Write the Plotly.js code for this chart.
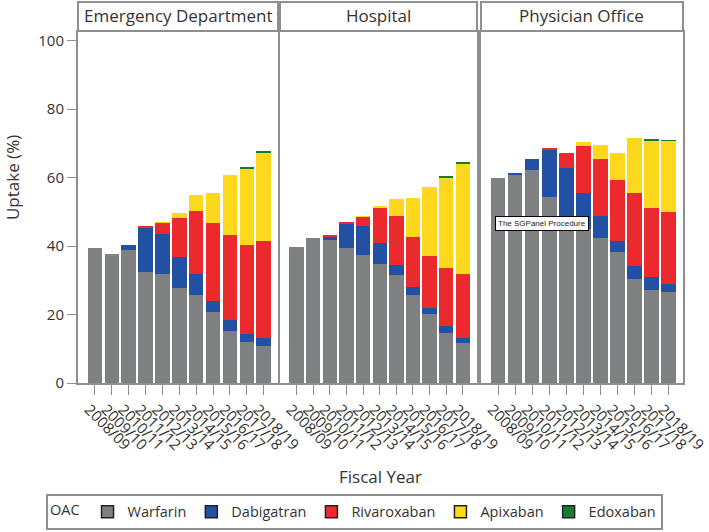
<!DOCTYPE html>
<html><head><meta charset="utf-8">
<script src="https://cdn.plot.ly/plotly-3.0.1.min.js"></script>
<style>body{margin:0;padding:0;background:#fff}#chart{width:709px;height:532px}</style>
</head><body><div id="chart"></div>
<script>
const years = ['2008/09','2009/10','2010/11','2011/12','2012/13','2013/14','2014/15','2015/16','2016/17','2017/18','2018/19'];
const panels = ['Emergency Department','Hospital','Physician Office'];
const drugs = ['Warfarin','Dabigatran','Rivaroxaban','Apixaban','Edoxaban'];
const drugColors = ['#7f8082','#2251a3','#ec2a2d','#fdd81c','#1a7a32'];

// Emergency Department
const edWarfarin    = [39.3,37.7,38.8,32.4,31.8,27.8,25.7,20.6,15.3,11.9,10.8];
const edDabigatran  = [0,0,1.6,12.9,11.8,9.0,6.2,3.3,3.1,2.4,2.3];
const edRivaroxaban = [0,0,0,0.5,3.0,11.5,18.3,22.8,24.8,25.9,28.3];
const edApixaban    = [0,0,0,0,0.5,1.2,4.8,8.7,17.5,22.2,25.7];
const edEdoxaban    = [0,0,0,0,0,0,0,0,0,0.6,0.7];
// Hospital
const hoWarfarin    = [39.6,42.2,41.7,39.3,37.5,34.8,31.5,25.7,20.2,14.5,11.8];
const hoDabigatran  = [0,0,1.0,7.1,8.3,6.0,3.1,2.3,1.8,2.1,1.3];
const hoRivaroxaban = [0,0,0.5,0.5,2.6,10.3,14.1,14.7,15.2,16.9,18.6];
const hoApixaban    = [0,0,0,0,0.5,0.7,5.0,11.4,20.0,26.4,32.2];
const hoEdoxaban    = [0,0,0,0,0,0,0,0,0,0.6,0.6];
// Physician Office
const poWarfarin    = [59.9,60.8,62.1,54.4,46.5,45.0,42.4,38.3,30.3,27.1,26.5];
const poDabigatran  = [0,0.5,3.4,13.6,16.3,10.4,6.3,3.2,4.0,3.8,2.3];
const poRivaroxaban = [0,0,0,0.6,4.5,13.8,16.6,17.7,21.1,20.1,21.1];
const poApixaban    = [0,0,0,0,0,1.2,4.1,8.1,16.2,19.7,20.7];
const poEdoxaban    = [0,0,0,0,0,0,0,0,0,0.6,0.5];

const panelData = [
  [edWarfarin, edDabigatran, edRivaroxaban, edApixaban, edEdoxaban],
  [hoWarfarin, hoDabigatran, hoRivaroxaban, hoApixaban, hoEdoxaban],
  [poWarfarin, poDabigatran, poRivaroxaban, poApixaban, poEdoxaban]
];
const axSuffix = ['', '2', '3'];

const FONT = 'Open Sans, Noto Sans, sans-serif';
const FRAME = '#8e8e8e';
const traces = [];
panelData.forEach((series, p) => {
  series.forEach((vals, d) => {
    traces.push({
      type: 'bar', x: years, y: vals, name: drugs[d],
      xaxis: 'x' + axSuffix[p], yaxis: 'y' + axSuffix[p],
      marker: {color: drugColors[d], line: {width: 0}},
      showlegend: false, hoverinfo: 'x+y+name'
    });
  });
});
// legend entries
drugs.forEach((name, d) => {
  traces.push({
    type: 'bar', x: [null], y: [null], name: name,
    xaxis: 'x', yaxis: 'y',
    marker: {color: drugColors[d], line: {color: '#222', width: 1.5}},
    showlegend: true
  });
});

const doms = [[0, 0.3306], [0.3339, 0.6595], [0.6661, 1]];
const layout = {
  width: 709, height: 532,
  margin: {l: 78, r: 26, t: 32, b: 149, autoexpand: false},
  paper_bgcolor: '#fff', plot_bgcolor: '#fff',
  font: {family: FONT, color: '#333'},
  barmode: 'stack', bargap: 0.14,
  showlegend: true,
  legend: {
    orientation: 'h', x: -0.053, y: -0.316, xanchor: 'left', yanchor: 'top',
    bordercolor: FRAME, borderwidth: 2, bgcolor: '#fff',
    font: {family: FONT, size: 14.5, color: '#333'},
    title: {text: 'OAC', side: 'left', font: {family: FONT, size: 14.5, color: '#333'}},
    traceorder: 'normal'
  },
  shapes: [], annotations: []
};
for (let p = 0; p < 3; p++) {
  const s = axSuffix[p];
  layout['xaxis' + s] = {
    domain: doms[p], anchor: 'y' + s, type: 'category',
    range: [-1, 10.85], automargin: false,
    tickmode: 'array', tickvals: years, ticktext: years,
    tickangle: 45, ticks: 'outside', ticklen: 10, tickcolor: FRAME, tickwidth: 1,
    ticklabelshift: -6,
    tickfont: {family: FONT, size: 15, color: '#333'},
    showline: true, mirror: true, linecolor: FRAME, linewidth: 2,
    showgrid: false, zeroline: false, fixedrange: true
  };
  layout['yaxis' + s] = {
    anchor: 'x' + s, range: [0, 102.5], automargin: false,
    tickvals: [0, 20, 40, 60, 80, 100],
    ticks: p === 0 ? 'outside' : '', ticklen: 9, tickcolor: FRAME, tickwidth: 1,
    showticklabels: p === 0,
    tickfont: {family: FONT, size: 15, color: '#333'},
    showline: true, mirror: true, linecolor: FRAME, linewidth: 2,
    showgrid: false, zeroline: false, fixedrange: true
  };
  if (p > 0) layout['yaxis' + s].matches = 'y';
  layout.shapes.push({
    type: 'rect', xref: 'x' + s + ' domain', yref: 'paper',
    x0: 0, x1: 1, y0: 1.003, y1: 1.0855,
    line: {color: FRAME, width: 2}, fillcolor: '#fff'
  });
  layout.annotations.push({
    xref: 'x' + s + ' domain', yref: 'paper', x: 0.5, y: 1.046,
    text: panels[p], showarrow: false, xanchor: 'center', yanchor: 'middle',
    font: {family: FONT, size: 17, color: '#333'}
  });
}
layout.annotations.push({
  xref: 'paper', yref: 'paper', x: -0.109, y: 0.584, textangle: -90,
  text: 'Uptake (%)', showarrow: false, xanchor: 'center', yanchor: 'middle',
  font: {family: FONT, size: 17, color: '#333'}
});
layout.annotations.push({
  xref: 'paper', yref: 'paper', x: 0.5, y: -0.265,
  text: 'Fiscal Year', showarrow: false, xanchor: 'center', yanchor: 'middle',
  font: {family: FONT, size: 17, color: '#333'}
});
layout.annotations.push({
  xref: 'paper', yref: 'paper', x: 0.767, y: 0.453,
  text: 'The SGPanel Procedure', showarrow: false, xanchor: 'center', yanchor: 'middle',
  font: {family: 'Liberation Sans, Arial, sans-serif', size: 8, color: '#222'},
  bgcolor: '#fff', bordercolor: '#000', borderwidth: 1, borderpad: 2
});

Plotly.newPlot('chart', traces, layout, {displayModeBar: false, staticPlot: true});
</script>
</body></html>
